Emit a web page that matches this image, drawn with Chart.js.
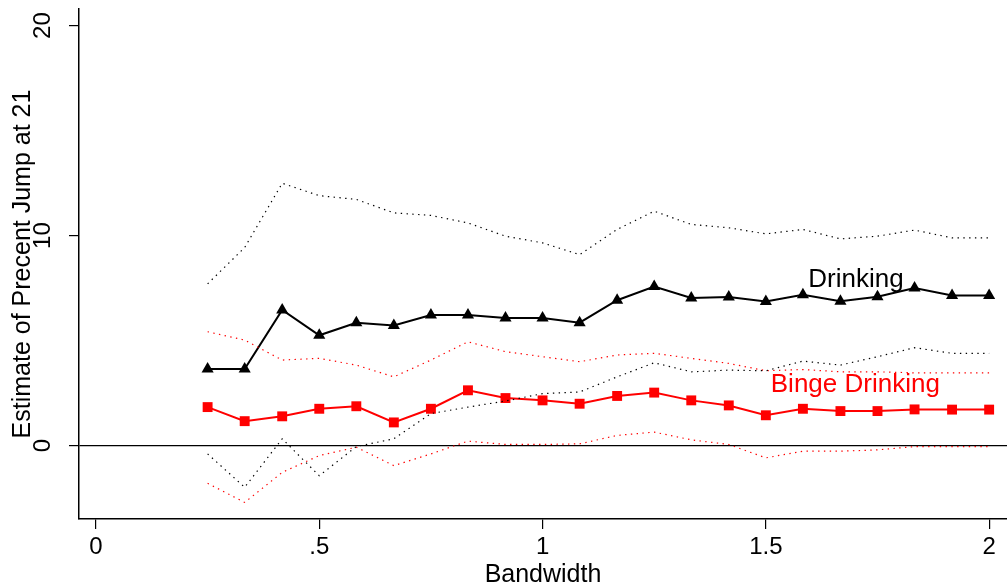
<!DOCTYPE html>
<html>
<head>
<meta charset="utf-8">
<script src="https://cdn.jsdelivr.net/npm/chart.js@4.4.1/dist/chart.umd.min.js"></script>
<style>
  html, body { margin: 0; padding: 0; background: #fff; }
</style>
</head>
<body>
<canvas id="jump_chart" width="1007" height="586"></canvas>
<script>
// bandwidths (x)
const bandwidths = [0.25, 0.333, 0.417, 0.5, 0.583, 0.667, 0.75, 0.833, 0.917, 1,
  1.083, 1.167, 1.25, 1.333, 1.417, 1.5, 1.583, 1.667, 1.75, 1.833, 1.917, 2];

// drinking estimate + CI
const drinking = [3.64, 3.64, 6.46, 5.25, 5.85, 5.72, 6.22, 6.22, 6.07, 6.07,
  5.85, 6.92, 7.57, 7.03, 7.07, 6.86, 7.18, 6.87, 7.09, 7.50, 7.14, 7.14];
const drinking_hi = [7.70, 9.43, 12.49, 11.90, 11.72, 11.08, 10.96, 10.60, 9.97, 9.65,
  9.09, 10.29, 11.16, 10.53, 10.37, 10.08, 10.29, 9.84, 9.97, 10.26, 9.89, 9.89];
const drinking_lo = [-0.40, -1.99, 0.32, -1.44, -0.05, 0.32, 1.52, 1.83, 2.12, 2.47,
  2.55, 3.27, 3.94, 3.51, 3.59, 3.56, 4.02, 3.83, 4.23, 4.66, 4.39, 4.39];

// binge drinking estimate + CI
const binge = [1.83, 1.16, 1.39, 1.75, 1.87, 1.10, 1.75, 2.63, 2.26, 2.15,
  1.99, 2.36, 2.52, 2.15, 1.91, 1.44, 1.75, 1.64, 1.64, 1.72, 1.71, 1.71];
const binge_hi = [5.42, 5.02, 4.07, 4.15, 3.83, 3.27, 4.07, 4.94, 4.47, 4.23,
  3.99, 4.31, 4.39, 4.15, 3.91, 3.56, 3.62, 3.51, 3.51, 3.46, 3.46, 3.46];
const binge_lo = [-1.80, -2.71, -1.28, -0.48, -0.08, -0.96, -0.40, 0.21, 0.05, 0.05,
  0.08, 0.48, 0.64, 0.27, 0.05, -0.59, -0.27, -0.27, -0.21, -0.05, -0.05, -0.05];

// axes
const x_ticks = [0, 0.5, 1, 1.5, 2];
const x_tick_labels = ["0", ".5", "1", "1.5", "2"];
const y_ticks = [0, 10, 20];
const series_names = ["Drinking", "Binge Drinking"];

const FONT = '"Liberation Sans", Arial, sans-serif';

function pts(ys) {
  return ys.map((v, i) => ({ x: bandwidths[i], y: v }));
}

function ciLine(ys, color) {
  return {
    data: pts(ys),
    borderColor: color,
    borderWidth: 1.2,
    borderDash: [1.4, 4.4],
    pointRadius: 0,
    fill: false,
    tension: 0,
  };
}

// text labels next to the lines
const series_text = {
  id: "series_text",
  afterDatasetsDraw(chart) {
    const ctx = chart.ctx;
    const xs = chart.scales.x;
    const ys = chart.scales.y;
    ctx.save();
    ctx.font = "26px " + FONT;
    ctx.textAlign = "left";
    ctx.textBaseline = "alphabetic";
    ctx.fillStyle = "#000";
    ctx.fillText(series_names[0], xs.getPixelForValue(1.595), ys.getPixelForValue(7.55));
    ctx.fillStyle = "#ff0000";
    ctx.fillText(series_names[1], xs.getPixelForValue(1.511), ys.getPixelForValue(2.56));
    ctx.restore();
  },
};

const chart = new Chart(document.getElementById("jump_chart").getContext("2d"), {
  type: "line",
  data: {
    datasets: [
      ciLine(drinking_hi, "#000"),
      ciLine(drinking_lo, "#000"),
      ciLine(binge_hi, "#ff0000"),
      ciLine(binge_lo, "#ff0000"),
      {
        label: series_names[0],
        data: pts(drinking),
        borderColor: "#000",
        backgroundColor: "#000",
        borderWidth: 2,
        pointStyle: "triangle",
        pointRadius: 7,
        pointBorderWidth: 0,
        tension: 0,
      },
      {
        label: series_names[1],
        data: pts(binge),
        borderColor: "#ff0000",
        backgroundColor: "#ff0000",
        borderWidth: 2,
        pointStyle: "rect",
        pointRadius: 7,
        pointBorderWidth: 0,
        tension: 0,
      },
    ],
  },
  options: {
    responsive: false,
    animation: false,
    devicePixelRatio: 1,
    layout: { autoPadding: false, padding: { top: 9, right: 0, left: 0, bottom: 0 } },
    plugins: { legend: { display: false }, tooltip: { enabled: false } },
    scales: {
      x: {
        type: "linear",
        min: -0.038,
        max: 2.04,
        afterBuildTicks: (s) => { s.ticks = x_ticks.map((v) => ({ value: v })); },
        afterFit: (s) => {
          s.height = 67;
          s.paddingLeft = 0;
          s.paddingRight = 0;
        },
        border: { color: "#000", width: 1.5 },
        grid: { drawOnChartArea: false, tickColor: "#000", tickLength: 10, lineWidth: 1.2 },
        ticks: {
          autoSkip: false,
          maxRotation: 0,
          padding: 4,
          color: "#000",
          font: { family: FONT, size: 24 },
          callback: (v, i) => x_tick_labels[i],
        },
        title: {
          display: true,
          text: "Bandwidth",
          color: "#000",
          font: { family: FONT, size: 25 },
          padding: { top: 0, bottom: -4 },
        },
      },
      y: {
        type: "linear",
        min: -3.5,
        max: 20.79,
        afterBuildTicks: (s) => { s.ticks = y_ticks.map((v) => ({ value: v })); },
        afterFit: (s) => {
          s.width = 79;
          s.paddingTop = 0;
          s.paddingBottom = 0;
        },
        border: { color: "#000", width: 1.5 },
        grid: {
          color: (c) => (c.tick && c.tick.value === 0 ? "#000" : "rgba(0,0,0,0)"),
          tickColor: "#000",
          tickLength: 10,
          lineWidth: 1.2,
        },
        ticks: {
          autoSkip: false,
          minRotation: 90,
          maxRotation: 90,
          crossAlign: "center",
          padding: 12,
          color: "#000",
          font: { family: FONT, size: 24 },
        },
        title: {
          display: true,
          text: "Estimate of Precent Jump at 21",
          color: "#000",
          font: { family: FONT, size: 25 },
          padding: { top: 8, bottom: 0 },
        },
      },
    },
  },
  plugins: [series_text],
});
</script>
</body>
</html>
